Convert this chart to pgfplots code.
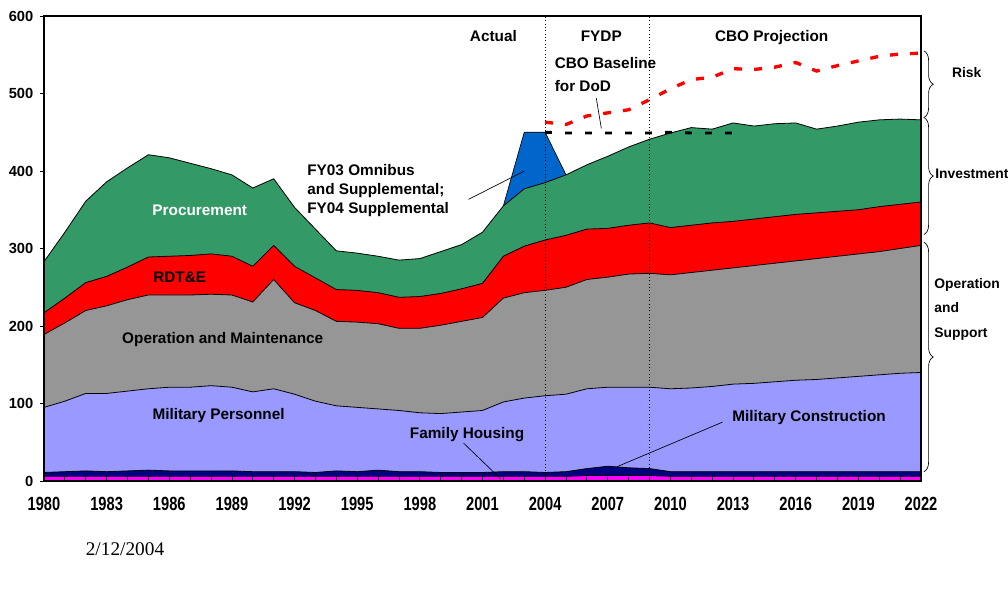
\documentclass[border=0pt]{standalone}
\usepackage{fontspec}
\setmainfont{Liberation Sans}
\newfontfamily\datefont{Liberation Serif}
\usepackage{pgfplots}
\usepackage{pgfplotstable}
\pgfplotsset{compat=1.18}
\usetikzlibrary{decorations.pathreplacing}

\definecolor{proc}{RGB}{51,153,102}
\definecolor{rdte}{RGB}{255,0,0}
\definecolor{onm}{RGB}{150,150,150}
\definecolor{milpers}{RGB}{153,153,255}
\definecolor{milcon}{RGB}{0,0,128}
\definecolor{fhouse}{RGB}{255,0,255}
\definecolor{supp}{RGB}{0,102,204}

% tops of each band (cumulative), $B
\pgfplotstableread{
year fh mc  mp  om  rd  pr
1980 6 11  95 189 217 283
1981 6 12 103 204 236 321
1982 6 13 113 220 256 361
1983 6 12 113 226 264 386
1984 6 13 116 234 276 404
1985 6 14 119 240 289 421
1986 6 13 121 240 290 417
1987 6 13 121 240 291 410
1988 6 13 123 241 293 403
1989 6 13 121 240 290 395
1990 6 12 115 231 277 378
1991 6 12 119 260 304 390
1992 6 12 112 230 277 353
1993 6 11 103 220 262 325
1994 6 13  97 206 247 297
1995 6 12  95 205 246 294
1996 6 14  93 203 243 290
1997 6 12  91 197 237 285
1998 6 12  88 197 238 287
1999 6 11  87 201 242 296
2000 6 11  89 206 248 305
2001 6 11  91 211 255 321
2002 6 12 102 236 290 355
2003 6 12 107 243 303 377
2004 6 11 110 246 311 385
2005 6 12 112 250 317 395
2006 7 16 119 260 325 408
2007 7 19 121 263 326 419
2008 7 17 121 267 330 431
2009 7 16 121 268 333 441
2010 6 12 119 266 327 449
2011 6 12 120 269 330 456
2012 6 12 122 272 333 454
2013 6 12 125 275 335 462
2014 6 12 126 278 338 458
2015 6 12 128 281 341 461
2016 6 12 130 284 344 462
2017 6 12 131 287 346 454
2018 6 12 133 290 348 458
2019 6 12 135 293 350 463
2020 6 12 137 296 354 466
2021 6 12 139 300 357 467
2022 6 12 140 304 360 466
}\budget

\newcommand{\lbl}{\bfseries\fontsize{11.5}{14}\selectfont}
\newcommand{\sidelbl}{\bfseries\fontsize{10.4}{13}\selectfont}

\begin{document}
\begin{tikzpicture}
\useasboundingbox (-33pt,-85.5pt) rectangle (723pt,360.75pt);
\begin{axis}[
    at={(0,0)}, anchor=south west,
    scale only axis,
    width=657.75pt, height=348.75pt,
    xmin=1980, xmax=2022, ymin=0, ymax=600,
    xtick={1980,1983,...,2022},
    minor xtick={1980,...,2022},
    xticklabels={1980,1983,1986,1989,1992,1995,1998,2001,2004,2007,2010,2013,2016,2019,2022},
    ytick={0,100,...,600},
    yticklabels={0,100,200,300,400,500,600},
    tick pos=left,
    major tick length=3pt, minor tick length=3pt,
    tick style={black, line width=0.6pt},
    ytick style={xshift=-3pt},
    axis line style={black, line width=0.8pt},
    ticklabel style={font=\bfseries\fontsize{11}{13}\selectfont},
    xticklabel style={yscale=1.3, yshift=-6pt},
    yticklabel style={xshift=-4.5pt},
    axis on top,
    clip=false,
]
% FY03 omnibus / supplementals spike, sits on top of procurement
\addplot[fill=supp, draw=black, line width=0.5pt] coordinates {
(2002,355) (2003,450) (2004,450) (2005,395)} \closedcycle;

\addplot[fill=proc, draw=black, line width=0.6pt] table[x=year,y=pr] {\budget} \closedcycle;
\addplot[fill=rdte, draw=black, line width=0.6pt] table[x=year,y=rd] {\budget} \closedcycle;
\addplot[fill=onm, draw=black, line width=0.6pt] table[x=year,y=om] {\budget} \closedcycle;
\addplot[fill=milpers, draw=black, line width=0.6pt] table[x=year,y=mp] {\budget} \closedcycle;
\addplot[fill=milcon, draw=black, line width=0.6pt] table[x=year,y=mc] {\budget} \closedcycle;
\addplot[fill=fhouse, draw=black, line width=0.6pt] table[x=year,y=fh] {\budget} \closedcycle;

% CBO baseline for DoD
\addplot[black, line width=2.2pt, dash pattern=on 5pt off 10pt] coordinates {
(2004,450) (2005,449) (2006,449) (2007,449) (2008,449) (2009,449)
(2010,450) (2011,449) (2012,449) (2013,449)};
% risk
\addplot[red, line width=2.5pt, dash pattern=on 6pt off 9pt] coordinates {
(2004,463) (2005,460) (2006,471) (2007,475) (2008,479) (2009,492)
(2010,506) (2011,518) (2012,521) (2013,532) (2014,531) (2015,534)
(2016,540) (2017,529) (2018,536) (2019,542) (2020,548) (2021,551) (2022,552)};

\draw[black, dotted, line width=0.5pt] (axis cs:2004,0) -- (axis cs:2004,600);
\draw[black, dotted, line width=0.5pt] (axis cs:2009,0) -- (axis cs:2009,600);

\node[font=\lbl, anchor=base, inner sep=0] at (axis cs:2001.52,567) {Actual};
\node[font=\lbl, anchor=base, inner sep=0] at (axis cs:2006.69,567) {FYDP};
\node[font=\lbl, anchor=base, inner sep=0] at (axis cs:2014.85,567) {CBO Projection};

\node[font=\lbl, anchor=base west, inner sep=0] at (axis cs:2004.45,532.3) {CBO Baseline};
\node[font=\lbl, anchor=base west, inner sep=0] at (axis cs:2004.45,502) {for DoD};
\draw[black, line width=0.5pt] (axis cs:2006.45,494) -- (axis cs:2006.69,455);

\node[font=\lbl, anchor=base west, inner sep=0] at (axis cs:1992.6,394.8) {FY03 Omnibus};
\node[font=\lbl, anchor=base west, inner sep=0] at (axis cs:1992.6,370) {and Supplemental;};
\node[font=\lbl, anchor=base west, inner sep=0] at (axis cs:1992.6,345) {FY04 Supplemental};
\draw[black, line width=0.5pt] (axis cs:2000.33,363.4) -- (axis cs:2003.01,400);

\node[font=\lbl, text=white, anchor=base, inner sep=0] at (axis cs:1987.46,342.7) {Procurement};
\node[font=\lbl, anchor=base, inner sep=0] at (axis cs:1986.5,256.4) {RDT\&E};
\node[font=\lbl, anchor=base, inner sep=0] at (axis cs:1988.56,177.2) {Operation and Maintenance};
\node[font=\lbl, anchor=base, inner sep=0] at (axis cs:1988.36,78.9) {Military Personnel};

\node[font=\lbl, anchor=base, inner sep=0] at (axis cs:2000.26,55.2) {Family Housing};
\draw[black, line width=0.5pt] (axis cs:2000.1,48.7) -- (axis cs:2001.86,3);
\node[font=\lbl, anchor=base, inner sep=0] at (axis cs:2016.64,76.7) {Military Construction};
\draw[black, line width=0.5pt] (axis cs:2012.49,75.9) -- (axis cs:2007.45,18.5);

% braces at the right
\draw[decorate, decoration={brace, amplitude=7pt}, line width=0.5pt]
  (axis cs:2022.14,555) -- (axis cs:2022.14,469);
\draw[decorate, decoration={brace, amplitude=7pt}, line width=0.5pt]
  (axis cs:2022.14,469) -- (axis cs:2022.14,318);
\draw[decorate, decoration={brace, amplitude=7pt}, line width=0.5pt]
  (axis cs:2022.14,308) -- (axis cs:2022.14,12);

\node[font=\sidelbl, anchor=base, inner sep=0] at (axis cs:2024.19,520.7) {Risk};
\node[font=\sidelbl, anchor=base west, inner sep=0] at (axis cs:2022.67,390) {Investment};
\node[font=\sidelbl, anchor=base west, inner sep=0] at (axis cs:2022.63,249) {Operation};
\node[font=\sidelbl, anchor=base west, inner sep=0] at (axis cs:2022.63,217) {and};
\node[font=\sidelbl, anchor=base west, inner sep=0] at (axis cs:2022.63,185) {Support};

\node[font=\datefont\fontsize{14.5}{17}\selectfont, anchor=base, inner sep=0]
  at (axis cs:1983.88,-95.7) {2/12/2004};
\end{axis}
\end{tikzpicture}
\end{document}
